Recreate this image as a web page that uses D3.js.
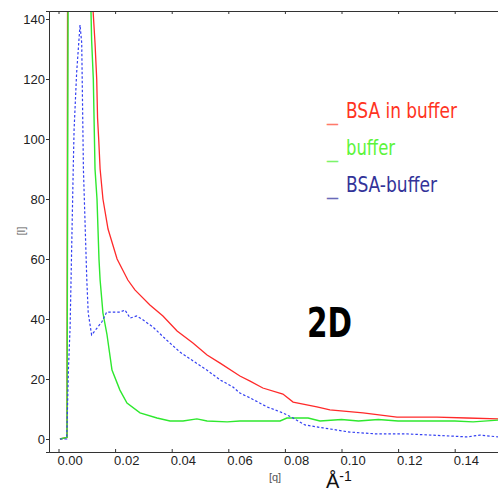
<!DOCTYPE html>
<html>
<head>
<meta charset="utf-8">
<script src="https://cdn.jsdelivr.net/npm/d3@7/dist/d3.min.js"></script>
<style>
  body { margin: 0; background: #fff; }
  svg { display: block; }
</style>
</head>
<body>
<div id="chart"></div>
<script>
// values (q in 1/Angstrom, I)
var bsaQ = [0.0005, 0.0030, 0.0032, 0.0120, 0.0122, 0.0129, 0.0135, 0.0138, 0.0142, 0.0147, 0.0157, 0.0175, 0.0207, 0.0245, 0.0270, 0.0323, 0.0369, 0.0419, 0.0475, 0.0525, 0.0571, 0.0641, 0.0677, 0.0722, 0.0793, 0.0829, 0.0913, 0.0959, 0.1076, 0.1196, 0.1337, 0.1443, 0.1553];
var bsaI = [0, 0.5, 150, 150, 143, 132, 120, 107, 100, 90, 80, 70, 60, 53, 49.7, 44.7, 41, 36, 32, 28, 25.3, 21, 19.3, 17, 15, 12.3, 10.7, 9.7, 8.7, 7.3, 7.3, 7, 6.7];

var bufQ = [0.0005, 0.0030, 0.0034, 0.0113, 0.0117, 0.0123, 0.0127, 0.0129, 0.0136, 0.0143, 0.0147, 0.0157, 0.0171, 0.0189, 0.0217, 0.0242, 0.0288, 0.0348, 0.0394, 0.0440, 0.0489, 0.0525, 0.0596, 0.0641, 0.0783, 0.0807, 0.0882, 0.0924, 0.1000, 0.1060, 0.1130, 0.1200, 0.1400, 0.1465, 0.1553];
var bufI = [0, 0.5, 150, 150, 133, 120, 100, 90, 80, 60, 53, 42, 35, 23, 16.3, 12, 8.7, 7, 6, 6, 6.7, 6, 5.7, 6, 6, 7, 7, 6, 6.5, 6, 6.5, 6, 6, 5.7, 6.3];

var diffQ = [0.0005, 0.0029, 0.0035, 0.0041, 0.0052, 0.0055, 0.0064, 0.0076, 0.0082, 0.0088, 0.0100, 0.0105, 0.0117, 0.0153, 0.0170, 0.0217, 0.0235, 0.0253, 0.0276, 0.0294, 0.0334, 0.0382, 0.0429, 0.0471, 0.0524, 0.0571, 0.0617, 0.0641, 0.0677, 0.0737, 0.0793, 0.0829, 0.0871, 0.0935, 0.1030, 0.1125, 0.1231, 0.1383, 0.1443, 0.1489, 0.1553];
var diffI = [0, 0, 23, 37.3, 90, 103, 122, 138, 132, 90, 53, 42, 34.7, 39, 42.3, 42.3, 43, 40.3, 41, 40, 37.3, 33, 29, 26.3, 23, 19.7, 17.3, 15.3, 13.7, 10.7, 8.7, 7, 4.7, 3.7, 2.3, 1.7, 1.7, 1, 0.7, 1.3, 0.7];

var xTicks = [0, 0.02, 0.04, 0.06, 0.08, 0.10, 0.12, 0.14];
var yTicks = [0, 20, 40, 60, 80, 100, 120, 140];
var legendNames = ["BSA in buffer", "buffer", "BSA-buffer"];

var W = 498, H = 492;
var plot = {left: 49, top: 11, right: 498, bottom: 452};

var svg = d3.select("#chart").append("svg")
  .attr("width", W).attr("height", H);

var x = d3.scaleLinear().domain([-0.00336, 0.1553]).range([plot.left, plot.right]);
var y = d3.scaleLinear().domain([-4.33, 142.67]).range([plot.bottom, plot.top]);

svg.append("clipPath").attr("id", "clip")
  .append("rect")
  .attr("x", plot.left).attr("y", plot.top)
  .attr("width", plot.right - plot.left).attr("height", plot.bottom - plot.top);

function pts(qs, is) {
  return qs.map(function(q, i) { return [q, is[i]]; });
}
var line = d3.line()
  .x(function(d) { return x(d[0]); })
  .y(function(d) { return y(d[1]); });

var g = svg.append("g").attr("clip-path", "url(#clip)");

g.append("path").datum(pts(bsaQ, bsaI))
  .attr("d", line)
  .attr("fill", "none").attr("stroke", "#ff2a2a").attr("stroke-width", 1.3);
g.append("path").datum(pts(bufQ, bufI))
  .attr("d", line)
  .attr("fill", "none").attr("stroke", "#2ee82e").attr("stroke-width", 1.4);
g.append("path").datum(pts(diffQ, diffI))
  .attr("d", line)
  .attr("fill", "none").attr("stroke", "#3440f2").attr("stroke-width", 1.2)
  .attr("stroke-dasharray", "2.5,2");

// axes
var axisColor = "#333";
var tickFont = "'Liberation Sans', Arial, sans-serif";
var noLabel = function() { return ""; };

var xAxisB = d3.axisBottom(x).tickValues(xTicks).tickSize(-3).tickFormat(d3.format(".2f"));
var gb = svg.append("g").attr("transform", "translate(0," + plot.bottom + ")").call(xAxisB);
gb.select(".domain").attr("stroke", axisColor);
gb.selectAll(".tick line").attr("stroke", axisColor);
gb.selectAll(".tick text")
  .attr("font-family", tickFont).attr("font-size", 13).attr("fill", "#222")
  .attr("text-anchor", "start").attr("x", -1.5).attr("y", 4).attr("dy", "0.71em");

var xAxisT = d3.axisTop(x).tickValues(xTicks).tickSize(-3).tickFormat(noLabel);
var gt = svg.append("g").attr("transform", "translate(0," + plot.top + ")").call(xAxisT);
gt.select(".domain").attr("stroke", axisColor);
gt.selectAll(".tick line").attr("stroke", axisColor);

var yAxisL = d3.axisLeft(y).tickValues(yTicks).tickSize(3).tickPadding(1);
var gl = svg.append("g").attr("transform", "translate(" + plot.left + ",0)").call(yAxisL);
gl.select(".domain").attr("stroke", axisColor);
gl.selectAll(".tick line").attr("stroke", axisColor);
gl.selectAll(".tick text")
  .attr("font-family", tickFont).attr("font-size", 13).attr("fill", "#222");

// axis titles
svg.append("text")
  .attr("transform", "translate(25,231) rotate(-90)")
  .attr("text-anchor", "middle")
  .attr("font-family", tickFont).attr("font-size", 10).attr("fill", "#555")
  .text("[I]");
svg.append("text")
  .attr("x", 275).attr("y", 481).attr("text-anchor", "middle")
  .attr("font-family", tickFont).attr("font-size", 11).attr("fill", "#555")
  .text("[q]");
var unit = svg.append("text")
  .attr("x", 326).attr("y", 488)
  .attr("font-family", tickFont).attr("fill", "#111");
unit.append("tspan").attr("font-size", 20).text("Å");
unit.append("tspan").attr("font-size", 14).attr("dy", -7).text("-1");

// legend
var legendColors = ["#ff3322", "#5cf43a", "#333399"];
var legendMarks = ["#ff7a6a", "#7cf46a", "#6a6ab8"];
var legendFont = "'Liberation Sans Narrow', 'DejaVu Sans Condensed', sans-serif";
var legendWidths = [111, 49, 91];
legendNames.forEach(function(name, i) {
  var by = 118 + i * 37;
  svg.append("text")
    .attr("x", 327).attr("y", by + 2)
    .attr("font-family", legendFont).attr("font-size", 22)
    .attr("textLength", 11).attr("lengthAdjust", "spacingAndGlyphs")
    .attr("fill", legendMarks[i]).text("_");
  svg.append("text")
    .attr("x", 346).attr("y", by)
    .attr("font-family", legendFont).attr("font-size", 22)
    .attr("textLength", legendWidths[i]).attr("lengthAdjust", "spacingAndGlyphs")
    .attr("fill", legendColors[i]).text(name);
});

svg.append("text")
  .attr("x", 307).attr("y", 337)
  .attr("font-family", "'DejaVu Sans Condensed', 'DejaVu Sans', sans-serif")
  .attr("font-weight", "bold").attr("font-size", 41)
  .attr("textLength", 45).attr("lengthAdjust", "spacingAndGlyphs")
  .attr("fill", "#000").text("2D");
</script>
</body>
</html>
